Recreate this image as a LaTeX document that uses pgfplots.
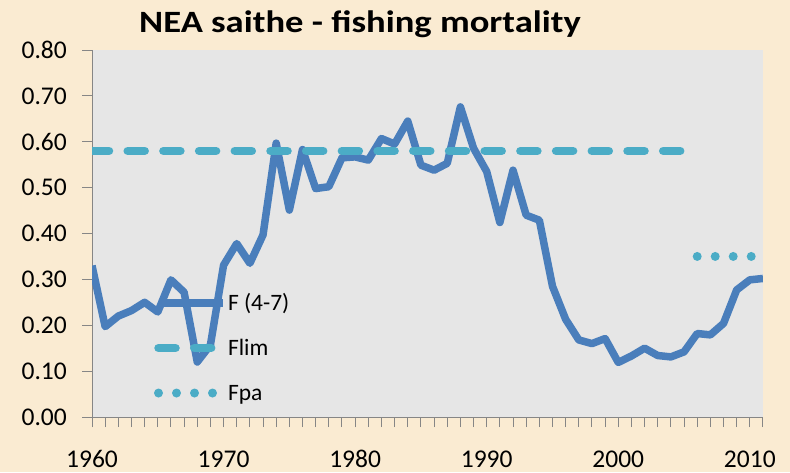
\documentclass[border=0pt]{standalone}
\usepackage{fontspec}
\setmainfont{Carlito}
\usepackage{graphicx}
\usepackage{pgfplots}
\pgfplotsset{compat=1.18}
\definecolor{bgbeige}{RGB}{250,235,210}
\definecolor{plotgray}{RGB}{230,230,230}
\definecolor{fblue}{RGB}{74,126,187}
\definecolor{fteal}{RGB}{75,172,198}
\definecolor{axgray}{RGB}{134,134,134}
\begin{document}
\begin{tikzpicture}
\useasboundingbox (0,0) rectangle (790pt,472pt);
\fill[bgbeige] (0,0) rectangle (790pt,472pt);
\node[anchor=base, inner sep=0pt, font=\fontsize{31}{36}\selectfont\bfseries] at (360pt,439pt) {\scalebox{1.18}[1]{NEA saithe - fishing mortality}};
\begin{axis}[
  at={(92pt,55pt)}, anchor=south west,
  scale only axis, width=671pt, height=367pt,
  xmin=1960, xmax=2011, ymin=0, ymax=0.8,
  axis background/.style={fill=plotgray},
  axis x line*=bottom, axis y line*=left,
  axis line style={draw=axgray, line width=1pt, -},
  every tick/.style={draw=axgray, line width=1pt},
  tick align=outside,
  major tick length=10pt, minor tick length=10pt,
  xtick={1960,1970,1980,1990,2000,2010},
  minor xtick={1960,1961,...,2011},
  ytick={0,0.1,0.2,0.3,0.4,0.5,0.6,0.7,0.8},
  /pgf/number format/assume math mode=true,
  xticklabel style={/pgf/number format/1000 sep={}, font=\fontsize{25.5}{30}\selectfont, anchor=base, inner sep=0pt, yshift=-40pt},
  yticklabel style={/pgf/number format/fixed, /pgf/number format/fixed zerofill, /pgf/number format/precision=2, font=\fontsize{25.5}{30}\selectfont, anchor=east, inner sep=0pt, xshift=-15pt},
  legend style={at={(axis description cs:0.0924,0.3351)}, anchor=north west, draw=none, fill=none, inner sep=0pt, outer sep=0pt,
    font=\fontsize{23.5}{27}\selectfont, row sep=27pt, column sep=1pt,
    nodes={inner sep=0pt, text height=16pt, text depth=2pt}},
  legend cell align=left,
  legend image code/.code={\draw[#1] (0pt,0pt) -- (64pt,0pt);},
  line join=round,
]
\addplot[fblue, line width=7.5pt] coordinates {
(1960,0.330) (1961,0.197) (1962,0.220) (1963,0.232) (1964,0.250) (1965,0.229)
(1966,0.299) (1967,0.272) (1968,0.120) (1969,0.157) (1970,0.331) (1971,0.378)
(1972,0.335) (1973,0.397) (1974,0.597) (1975,0.451) (1976,0.583) (1977,0.498)
(1978,0.502) (1979,0.565) (1980,0.567) (1981,0.560) (1982,0.607) (1983,0.595)
(1984,0.645) (1985,0.549) (1986,0.538) (1987,0.553) (1988,0.676) (1989,0.586)
(1990,0.535) (1991,0.424) (1992,0.538) (1993,0.440) (1994,0.429) (1995,0.285)
(1996,0.213) (1997,0.168) (1998,0.160) (1999,0.171) (2000,0.119) (2001,0.133)
(2002,0.150) (2003,0.134) (2004,0.131) (2005,0.142) (2006,0.182) (2007,0.179)
(2008,0.204) (2009,0.277) (2010,0.299) (2011,0.302)
};
\addlegendentry{F (4-7)}
\addplot[fteal, line width=8.5pt, line cap=round, dash pattern=on 17pt off 18.7pt] coordinates {
(1960,0.58) (2005,0.58)
};
\addlegendentry{Flim}
\addplot[fteal, line width=9pt, line cap=round, dash pattern=on 0pt off 18pt] coordinates {
(2006,0.35) (2011,0.35)
};
\addlegendentry{Fpa}
\end{axis}
\end{tikzpicture}
\end{document}
